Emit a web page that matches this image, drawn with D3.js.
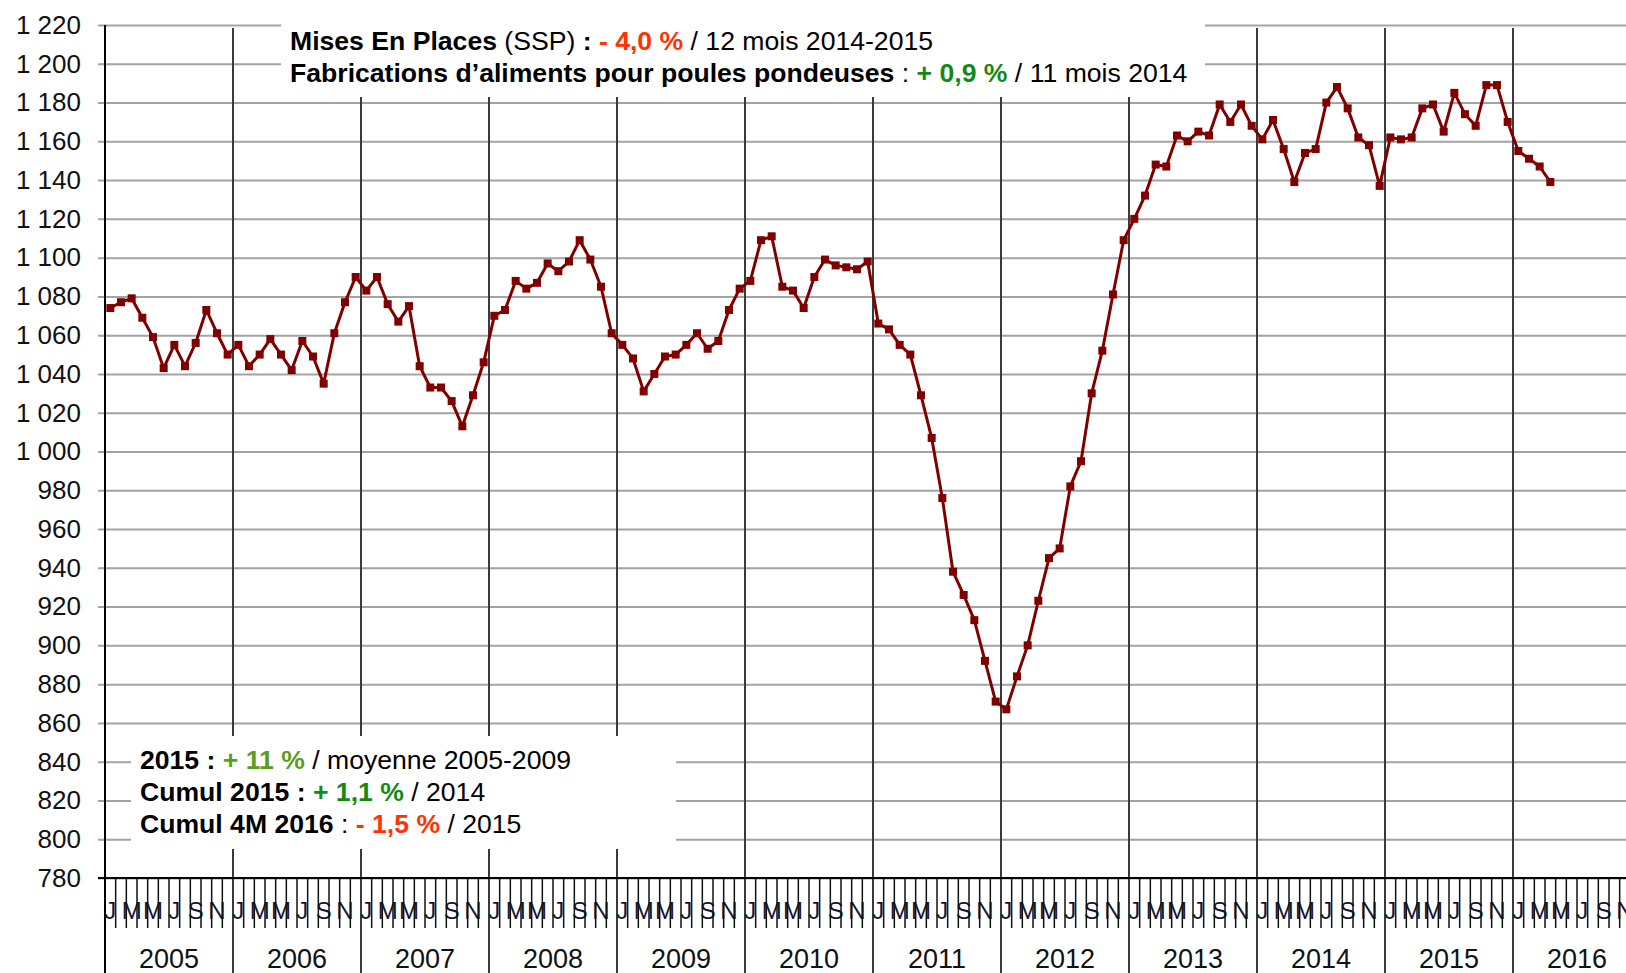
<!DOCTYPE html>
<html>
<head>
<meta charset="utf-8">
<script src="https://cdn.jsdelivr.net/npm/d3@7"></script>
<style>
  body { margin: 0; background: #fff; }
  svg { display: block; font-family: "Liberation Sans", Arial, sans-serif; }
</style>
</head>
<body>
<div id="chart"></div>
<script>
// Categories: one band per month, Jan 2005 -> Dec 2016.
const years = [2005, 2006, 2007, 2008, 2009, 2010, 2011, 2012, 2013, 2014, 2015, 2016];
const monthLetters = ['J', 'F', 'M', 'A', 'M', 'J', 'J', 'A', 'S', 'O', 'N', 'D'];

// Monthly values, Jan 2005 -> Apr 2016.
const values2005 = [1074, 1077, 1079, 1069, 1059, 1043, 1055, 1044, 1056, 1073, 1061, 1050];
const values2006 = [1055, 1044, 1050, 1058, 1050, 1042, 1057, 1049, 1035, 1061, 1077, 1090];
const values2007 = [1083, 1090, 1076, 1067, 1075, 1044, 1033, 1033, 1026, 1013, 1029, 1046];
const values2008 = [1070, 1073, 1088, 1084, 1087, 1097, 1093, 1098, 1109, 1099, 1085, 1061];
const values2009 = [1055, 1048, 1031, 1040, 1049, 1050, 1055, 1061, 1053, 1057, 1073, 1084];
const values2010 = [1088, 1109, 1111, 1085, 1083, 1074, 1090, 1099, 1096, 1095, 1094, 1098];
const values2011 = [1066, 1063, 1055, 1050, 1029, 1007, 976, 938, 926, 913, 892, 871];
const values2012 = [867, 884, 900, 923, 945, 950, 982, 995, 1030, 1052, 1081, 1109];
const values2013 = [1120, 1132, 1148, 1147, 1163, 1160, 1165, 1163, 1179, 1170, 1179, 1168];
const values2014 = [1161, 1171, 1156, 1139, 1154, 1156, 1180, 1188, 1177, 1162, 1158, 1137];
const values2015 = [1162, 1161, 1162, 1177, 1179, 1165, 1185, 1174, 1168, 1189, 1189, 1170];
const values2016 = [1155, 1151, 1147, 1139];

const yTicks = [780, 800, 820, 840, 860, 880, 900, 920, 940, 960, 980, 1000,
  1020, 1040, 1060, 1080, 1100, 1120, 1140, 1160, 1180, 1200, 1220];

// Annotation texts: [text, style] pieces.
const topNote = [
  [['Mises En Places', 'b'], [' (SSP) ', 'n'], [': ', 'b'], ['- 4,0 %', 'red'], [' / 12 mois 2014-2015', 'n']],
  [['Fabrications d\u2019aliments pour poules pondeuses', 'b'], [' : ', 'n'], ['+ 0,9 %', 'green'], [' / 11 mois 2014', 'n']]
];
const bottomNote = [
  [['2015 : ', 'b'], ['+ 11 %', 'olive'], [' / moyenne 2005-2009', 'n']],
  [['Cumul 2015 : ', 'b'], ['+ 1,1 %', 'green'], [' / 2014', 'n']],
  [['Cumul 4M 2016', 'b'], [' : ', 'n'], ['- 1,5 %', 'red'], [' / 2015', 'n']]
];

const values = [].concat(values2005, values2006, values2007, values2008, values2009, values2010,
  values2011, values2012, values2013, values2014, values2015, values2016);

const W = 1626, H = 973;
const plotLeft = 105, plotTop = 25, plotBottom = 878;
const monthW = 128 / 12;

const svg = d3.select('#chart').append('svg')
  .attr('width', W)
  .attr('height', H);

svg.append('rect').attr('width', W).attr('height', H).attr('fill', '#fff');

// Scales.
const months = d3.range(years.length * 12);
const x = d3.scaleBand()
  .domain(months)
  .range([plotLeft, plotLeft + months.length * monthW])
  .paddingInner(0)
  .paddingOuter(0);
const y = d3.scaleLinear().domain([780, 1220]).range([plotBottom, plotTop]);

const fr = d3.formatLocale({ decimal: ',', thousands: ' ', grouping: [3], currency: ['', ' €'] });

// Horizontal gridlines.
svg.append('g')
  .attr('transform', `translate(98,0)`)
  .call(d3.axisLeft(y).tickValues(yTicks).tickSize(-(W - 98)).tickFormat(''))
  .call(g => g.select('.domain').remove())
  .call(g => g.selectAll('line').attr('stroke', '#a3a3a3').attr('stroke-width', 2));

// Year separators (vertical), from plot top to bottom of picture.
const yearStarts = years.map((yr, k) => x(k * 12));
svg.append('g').selectAll('line')
  .data(yearStarts.slice(1))
  .join('line')
  .attr('x1', d => d).attr('x2', d => d)
  .attr('y1', plotTop + 3).attr('y2', H)
  .attr('stroke', '#3a3a3a')
  .attr('stroke-width', 2);

// White boxes behind the annotations.
svg.append('rect').attr('x', 281).attr('y', 0).attr('width', 924).attr('height', 97).attr('fill', '#fff');
svg.append('rect').attr('x', 131).attr('y', 736).attr('width', 545).attr('height', 113).attr('fill', '#fff');

// Y-axis labels.
svg.append('g')
  .attr('transform', `translate(${plotLeft},0)`)
  .call(d3.axisLeft(y).tickValues(yTicks).tickSize(0).tickPadding(24).tickFormat(fr.format(',d')))
  .call(g => g.select('.domain').remove())
  .call(g => g.selectAll('text')
    .attr('font-size', 26)
    .attr('font-family', '"Liberation Sans", Arial, sans-serif')
    .attr('fill', '#111'));

// Month labels (every other month shown).
svg.append('g').selectAll('text')
  .data(months.filter(m => m % 2 === 0))
  .join('text')
  .attr('x', m => x(m) + x.bandwidth() / 2)
  .attr('y', 919)
  .attr('text-anchor', 'middle')
  .attr('font-size', 24)
  .attr('fill', '#14182e')
  .text(m => monthLetters[m % 12]);

// Month ticks below the axis.
svg.append('g').selectAll('line')
  .data(months.filter(m => m % 12 !== 0))
  .join('line')
  .attr('x1', m => x(m)).attr('x2', m => x(m))
  .attr('y1', plotBottom).attr('y2', 928)
  .attr('stroke', '#111')
  .attr('stroke-width', 1.5);

// Year labels.
svg.append('g').selectAll('text')
  .data(years)
  .join('text')
  .attr('x', (yr, k) => x(k * 12) + monthW * 6)
  .attr('y', 968)
  .attr('text-anchor', 'middle')
  .attr('font-size', 27)
  .attr('fill', '#111')
  .text(yr => yr);

// Axis lines.
svg.append('line')
  .attr('x1', 98).attr('x2', W).attr('y1', plotBottom).attr('y2', plotBottom)
  .attr('stroke', '#000').attr('stroke-width', 2);
svg.append('line')
  .attr('x1', plotLeft).attr('x2', plotLeft).attr('y1', plotTop).attr('y2', H)
  .attr('stroke', '#000').attr('stroke-width', 2);

// Data line and markers.
const cx = (d, i) => x(i) + x.bandwidth() / 2;
svg.append('path')
  .datum(values)
  .attr('fill', 'none')
  .attr('stroke', '#800000')
  .attr('stroke-width', 3)
  .attr('stroke-linejoin', 'round')
  .attr('d', d3.line().x(cx).y(d => y(d)));

svg.append('g').selectAll('rect')
  .data(values)
  .join('rect')
  .attr('x', (d, i) => cx(d, i) - 4)
  .attr('y', d => y(d) - 4)
  .attr('width', 8)
  .attr('height', 8)
  .attr('fill', '#800000');

// Annotation texts.
const styles = {
  b: { weight: 'bold', fill: '#000' },
  n: { weight: 'normal', fill: '#000' },
  red: { weight: 'bold', fill: '#ff3300' },
  green: { weight: 'bold', fill: '#138a13' },
  olive: { weight: 'bold', fill: '#5c9e1c' }
};

function drawNote(lines, x0, y0, step) {
  lines.forEach((parts, li) => {
    const t = svg.append('text')
      .attr('x', x0)
      .attr('y', y0 + li * step)
      .attr('font-size', 26.6)
      .style('white-space', 'pre');
    parts.forEach(([txt, s]) => {
      t.append('tspan')
        .attr('font-weight', styles[s].weight)
        .attr('fill', styles[s].fill)
        .text(txt);
    });
  });
}

drawNote(topNote, 290, 50, 32);
drawNote(bottomNote, 140, 769, 32);
</script>
</body>
</html>
